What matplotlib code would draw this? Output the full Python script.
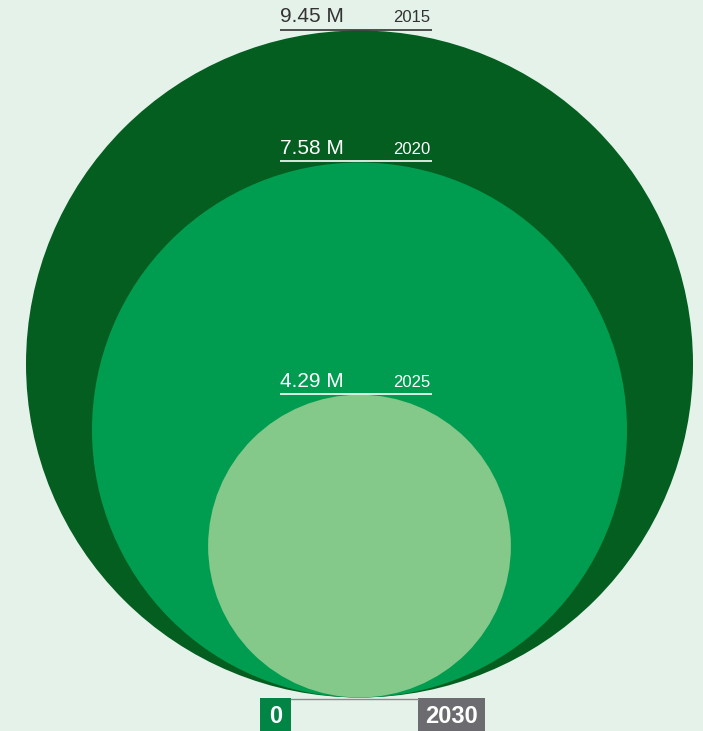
import matplotlib
matplotlib.use("Agg")
import matplotlib.pyplot as plt
from matplotlib.patches import Circle, Rectangle

# values in millions, biggest first so smaller circles sit on top
years = ["2015", "2020", "2025"]
values = [9.45, 7.58, 4.29]
colors = ["#035e20", "#009d50", "#84c88a"]
label_colors = ["#333333", "white", "white"]
axis_labels = ["0", "2030"]

plt.rcParams["font.family"] = ["Liberation Sans Narrow", "Liberation Sans", "DejaVu Sans"]

W, H = 703, 731
fig = plt.figure(figsize=(W / 100, H / 100), dpi=100)
fig.patch.set_facecolor("#e4f2ea")
ax = fig.add_axes([0, 0, 1, 1])
ax.set_xlim(0, W)
ax.set_ylim(H, 0)
ax.axis("off")

cx = 359.5
base = 697.5
scale = 333.5 / max(values)   # px per million (radius)

for yr, v, c, tc in zip(years, values, colors, label_colors):
    r = v * scale
    ax.add_patch(Circle((cx, base - r), r, color=c, lw=0))
    top = base - 2 * r
    ax.plot([280, 432], [top - 1, top - 1], color=tc, lw=1.2, solid_capstyle="butt")
    ax.text(280, top - 8, f"{v:.2f} M", color=tc, fontsize=15, ha="left", va="baseline")
    ax.text(430, top - 8, yr, color=tc, fontsize=12, ha="right", va="baseline")

# bottom scale
ax.plot([291, 418], [698.5, 698.5], color="#8a8a8a", lw=1)
ax.add_patch(Rectangle((260, 698), 31, 33, color="#008544", lw=0))
ax.add_patch(Rectangle((418, 698), 67, 33, color="#6c6c70", lw=0))
ax.text(275.5, 723, axis_labels[0], color="white", fontsize=17, fontweight="bold", ha="center", va="baseline")
ax.text(451.5, 723, axis_labels[1], color="white", fontsize=17, fontweight="bold", ha="center", va="baseline")

fig.savefig("out.png", dpi=100, facecolor=fig.get_facecolor())
